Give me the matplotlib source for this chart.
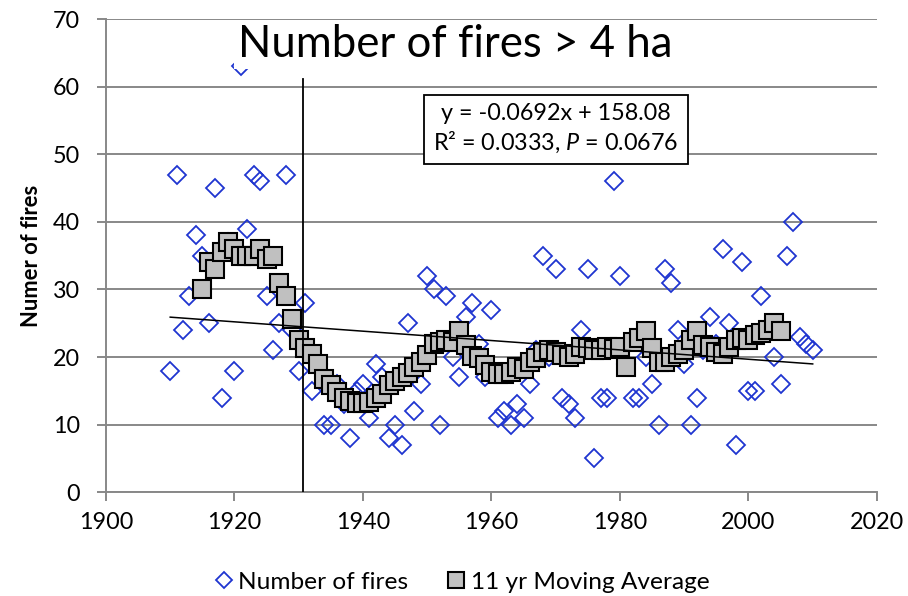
import numpy as np
import matplotlib
matplotlib.use("Agg")
import matplotlib.pyplot as plt
from matplotlib.lines import Line2D

plt.rcParams['font.family'] = ['Lato', 'DejaVu Sans']
plt.rcParams['mathtext.fontset'] = 'custom'
plt.rcParams['mathtext.rm'] = 'Lato'
plt.rcParams['mathtext.it'] = 'Lato:italic'

# yearly number of fires > 4 ha, 1910-2010
fire_years = list(range(1910, 2011))
fires = [18, 47, 24, 29, 38, 35, 25, 45, 14, 37,
         18, 63, 39, 47, 46, 29, 21, 25, 47, 24,
         18, 28, 15, 19, 10, 10, 16, 13, 8, 15,
         16, 11, 19, 17, 8, 10, 7, 25, 12, 16,
         32, 30, 10, 29, 20, 17, 26, 28, 22, 17,
         27, 11, 12, 10, 13, 11, 16, 21, 35, 20,
         33, 14, 13, 11, 24, 33, 5, 14, 14, 46,
         32, 19, 14, 14, 20, 16, 10, 33, 31, 24,
         19, 10, 14, 21, 26, 22, 36, 25, 7, 34,
         15, 15, 29, 24, 20, 16, 35, 40, 23, 22,
         21]

# 11 yr moving average, 1915-2005
ma_years = list(range(1915, 2006))
moving_avg = [30, 34, 33, 35.5, 37, 36, 35, 35, 35, 36,
              34.5, 35, 31, 29, 25.7, 22.5, 21.3, 20.5, 19, 16.8,
              15.8, 14.9, 14, 13.5, 13.2, 13.2, 13.4, 14, 14.6, 15.8,
              16.5, 17, 17.7, 18.5, 19.3, 20.3, 22, 22.3, 22.5, 22.2,
              23.8, 21.8, 20.2, 19.8, 18.8, 17.8, 17.5, 17.5, 17.8, 18.5,
              18.3, 19.3, 19.8, 20.8, 21, 20.8, 20.3, 20, 20.5, 21.5,
              21.3, 21, 21, 21.5, 21.2, 21.5, 18.5, 22.3, 22.8, 23.8,
              21.3, 19.3, 19.3, 20, 20.5, 21, 22.5, 23.8, 21.8,
              21.5, 20.8, 20.5, 21.5, 22.5, 22.8, 22.5, 23.3, 23.5, 24,
              25, 23.8]

# linear trend from the chart
slope = -0.0692
intercept = 158.08
break_year = 1930.6

fig = plt.figure(figsize=(9.08, 5.96), dpi=100)
ax = fig.add_axes([0.1167, 0.174, 0.8491, 0.794])

ax.plot(fire_years, fires, linestyle='none', marker='D', markersize=9.3,
        markerfacecolor='none', markeredgecolor='#1f35d0', markeredgewidth=1.3,
        zorder=3)
ax.plot(ma_years, moving_avg, linestyle='none', marker='s', markersize=12.5,
        markerfacecolor='#c0c0c0', markeredgecolor='black', markeredgewidth=1.5,
        zorder=4)

tx = np.array([fire_years[0], fire_years[-1]])
ax.plot(tx, slope * tx + intercept, color='black', linewidth=1.1, zorder=5)
ax.plot([break_year, break_year], [0, 61.2], color='black', linewidth=1.3, zorder=5)

ax.set_xlim(1900, 2020)
ax.set_ylim(0, 70)
ax.set_xticks(range(1900, 2021, 20))
ax.set_yticks(range(0, 71, 10))
ax.grid(axis='y', color='#888888', linewidth=1.4, zorder=0)
ax.set_axisbelow(True)
for s in ['top', 'right']:
    ax.spines[s].set_visible(False)
for s in ['left', 'bottom']:
    ax.spines[s].set_color('#888888')
    ax.spines[s].set_linewidth(1.4)
ax.tick_params(axis='both', colors='#888888', length=6.5, width=1.4,
               labelcolor='black', labelsize=16.8)
ax.tick_params(axis='x', pad=8)
ax.tick_params(axis='y', pad=12)
ax.set_ylabel('Numer of fires', fontsize=15.8, fontweight='bold')
ax.yaxis.set_label_coords(-0.083, 0.5)

ax.text(0.4534, 0.920, 'Number of fires > 4 ha', transform=ax.transAxes,
        ha='center', va='baseline', fontsize=31.5, zorder=6,
        bbox=dict(facecolor='white', edgecolor='none', pad=3))

ax.text(0.5836, 0.768, 'y = -0.0692x + 158.08\nR² = 0.0333, $\\mathit{P}$ = 0.0676',
        transform=ax.transAxes, ha='center', va='center', fontsize=16.8,
        linespacing=1.25, zorder=6,
        bbox=dict(facecolor='white', edgecolor='black', linewidth=1.3,
                  boxstyle='square,pad=0.4'))

handles = [
    Line2D([], [], linestyle='none', marker='D', markersize=8,
           markerfacecolor='none', markeredgecolor='#1f35d0', markeredgewidth=1.3),
    Line2D([], [], linestyle='none', marker='s', markersize=11.5,
           markerfacecolor='#c0c0c0', markeredgecolor='black', markeredgewidth=1.5),
]
fig.legend(handles, ['Number of fires', '11 yr Moving Average'], ncol=2,
           loc='center', bbox_to_anchor=(0.509, 0.0235), frameon=False,
           fontsize=17.6, handlelength=0.7, handletextpad=0.25, columnspacing=1.6,
           borderpad=0.1)

fig.savefig('out.png', dpi=100)
